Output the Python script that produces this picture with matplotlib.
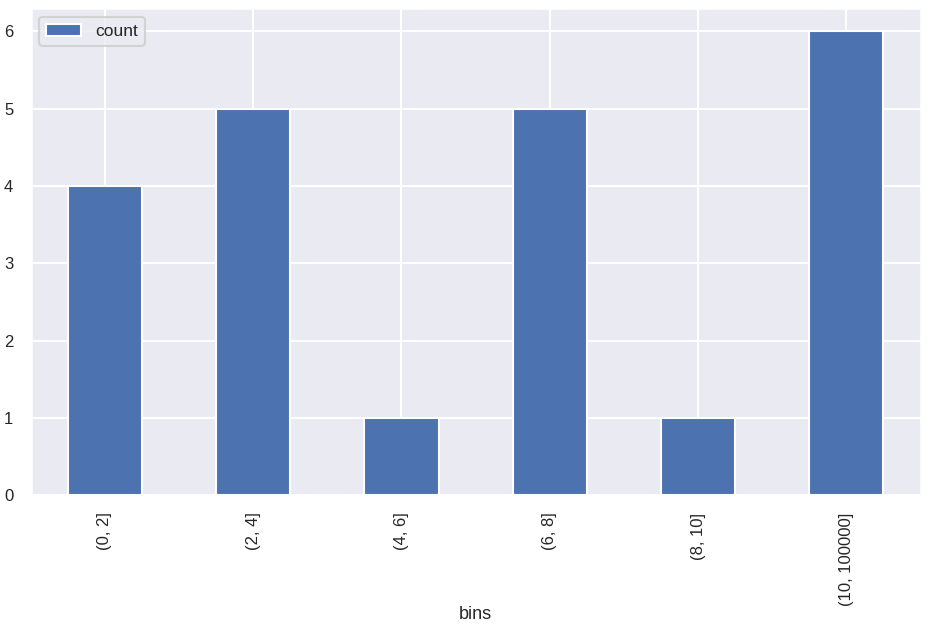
import matplotlib
matplotlib.use("Agg")
import matplotlib.pyplot as plt
import seaborn as sns
import pandas as pd

bins = ["(0, 2]", "(2, 4]", "(4, 6]", "(6, 8]", "(8, 10]", "(10, 100000]"]
counts = [4, 5, 1, 5, 1, 6]

sns.set_theme(style="darkgrid", context="talk")
plt.rcParams['font.family'] = ['Liberation Sans', 'DejaVu Sans']

df = pd.DataFrame({"bins": bins, "count": counts}).set_index("bins")

fig, ax = plt.subplots(figsize=(9.28, 6.3), dpi=100)
df.plot(kind="bar", ax=ax, color="#4c72b0")
ax.tick_params(axis='both', labelsize=12)
ax.set_xlabel("bins", fontsize=13)
ax.xaxis.set_label_coords(0.5, -0.228)
ax.legend(loc="upper left", fontsize=12.5)
fig.subplots_adjust(left=0.033, right=0.992, top=0.987, bottom=0.214)
fig.savefig("out.png", dpi=100)
